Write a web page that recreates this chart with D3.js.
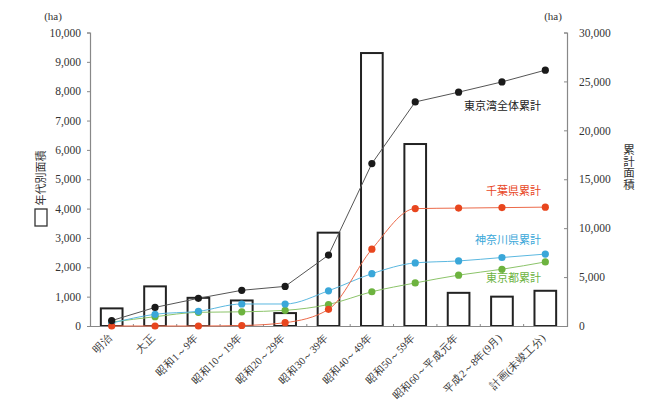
<!DOCTYPE html>
<html><head><meta charset="utf-8">
<script src="https://cdn.jsdelivr.net/npm/d3@7"></script>
<style>
body{margin:0;background:#fff;}
svg{display:block;}
.tick text{font-family:"Liberation Serif","DejaVu Serif",serif;}
</style></head>
<body><svg id="c" width="653" height="414"></svg>
<script>
const categories = ["明治","大正","昭和1～9年","昭和10～19年","昭和20～29年","昭和30～39年","昭和40～49年","昭和50～59年","昭和60～平成元年","平成2～8年(9月)","計画(未竣工分)"];
const decadeArea = [600, 1350, 960, 870, 440, 3180, 9300, 6200, 1130, 1000, 1200];
const totalCum   = [550, 1900, 2830, 3650, 4050, 7250, 16600, 22900, 23900, 24950, 26150];
const chibaCum   = [0, 0, 0, 50, 340, 1700, 7850, 12000, 12050, 12100, 12150];
const kanagawaCum= [300, 1200, 1500, 2250, 2250, 3600, 5350, 6450, 6650, 7000, 7350];
const tokyoCum   = [400, 950, 1400, 1450, 1600, 2200, 3500, 4400, 5200, 5800, 6550];
const leftTicks  = [0,1000,2000,3000,4000,5000,6000,7000,8000,9000,10000];
const rightTicks = [0,5000,10000,15000,20000,25000,30000];
const seriesNames = ["東京湾全体累計","千葉県累計","神奈川県累計","東京都累計"];

const svg = d3.select("#c");
const L = 90, R = 567, T = 32.5, B = 326;
const x = d3.scaleBand().domain(categories).range([L, R]).paddingInner(0.5).paddingOuter(0.25);
const yL = d3.scaleLinear().domain([0, 10000]).range([B, T]);
const yR = d3.scaleLinear().domain([0, 30000]).range([B, T]);
const fmt = d3.format(",");

// left axis
const gL = svg.append("g").attr("transform", `translate(${L},0)`)
  .call(d3.axisLeft(yL).tickValues(leftTicks).tickFormat(fmt).tickSize(3).tickPadding(6));
// right axis
const gR = svg.append("g").attr("transform", `translate(${R},0)`)
  .call(d3.axisRight(yR).tickValues(rightTicks).tickFormat(fmt).tickSize(-3).tickPadding(12));
[gL, gR].forEach(g => {
  g.select(".domain").attr("stroke", "#888").attr("stroke-width", 1.2);
  g.selectAll(".tick line").attr("stroke", "#888");
  g.selectAll(".tick text").attr("fill", "#333").attr("font-size", 11.5);
});

// bars
svg.append("g").selectAll("rect").data(categories).join("rect")
  .attr("x", d => x(d)).attr("width", x.bandwidth())
  .attr("y", (d, i) => yL(decadeArea[i]))
  .attr("height", (d, i) => B - yL(decadeArea[i]))
  .attr("fill", "#fff").attr("stroke", "#222").attr("stroke-width", 2);

// bottom axis
const gB = svg.append("g").attr("transform", `translate(0,${B})`)
  .call(d3.axisBottom(x).tickSize(0).tickPadding(0));
gB.select(".domain").attr("stroke", "#888").attr("stroke-width", 1.2);
gB.selectAll(".tick text")
  .attr("font-family", "'Noto Sans CJK JP',sans-serif").attr("font-size", 10.5).attr("fill", "#333")
  .attr("text-anchor", "end")
  .attr("transform", "translate(-2,10) rotate(-45)")
  .attr("dy", "0.35em").attr("dx", 0).attr("y", 0);
// small separator ticks between categories
svg.append("g").selectAll("line").data(categories.slice(1)).join("line")
  .attr("x1", d => x(d) - x.step() * x.paddingInner() / 2)
  .attr("x2", d => x(d) - x.step() * x.paddingInner() / 2)
  .attr("y1", B - 2).attr("y2", B + 1).attr("stroke", "#888");

// lines
const series = [
  {vals: totalCum, color: "#1a1a1a", line: "#555", curve: d3.curveLinear},
  {vals: chibaCum, color: "#e8461e", line: "#ec6a4a", curve: d3.curveMonotoneX},
  {vals: kanagawaCum, color: "#3aa7d9", line: "#5bb8e0", curve: d3.curveMonotoneX},
  {vals: tokyoCum, color: "#6db33f", line: "#8cc46a", curve: d3.curveMonotoneX}
];
const cx = d => x(d) + x.bandwidth() / 2;
[series[3], series[2], series[1], series[0]].forEach(s => {
  const line = d3.line().x((v, i) => cx(categories[i])).y(v => yR(v)).curve(s.curve);
  svg.append("path").datum(s.vals).attr("d", line)
    .attr("fill", "none").attr("stroke", s.line).attr("stroke-width", 1);
  svg.append("g").selectAll("circle").data(s.vals).join("circle")
    .attr("cx", (v, i) => cx(categories[i])).attr("cy", v => yR(v)).attr("r", 3.6)
    .attr("fill", s.color);
});

// series labels
const lab = [
  {t: seriesNames[0], c: "#222", y: 110},
  {t: seriesNames[1], c: "#e8461e", y: 195},
  {t: seriesNames[2], c: "#3aa7d9", y: 244},
  {t: seriesNames[3], c: "#6db33f", y: 282}
];
svg.append("g").selectAll("text").data(lab).join("text")
  .attr("x", 541).attr("y", d => d.y).attr("text-anchor", "end")
  .attr("font-family", "'Noto Sans CJK JP',sans-serif").attr("font-size", 11)
  .attr("fill", d => d.c).text(d => d.t);

// unit labels
svg.append("text").attr("x", 53).attr("y", 20).attr("text-anchor", "middle")
  .attr("font-family", "'Liberation Serif',serif").attr("font-size", 11).attr("fill", "#333").text("(ha)");
svg.append("text").attr("x", 553).attr("y", 20).attr("text-anchor", "middle")
  .attr("font-family", "'Liberation Serif',serif").attr("font-size", 11).attr("fill", "#333").text("(ha)");

// left axis title: box + vertical text
svg.append("rect").attr("x", 35).attr("y", 209).attr("width", 12).attr("height", 17)
  .attr("fill", "#fff").attr("stroke", "#333").attr("stroke-width", 1.3);
svg.append("text").attr("transform", "translate(41,178) rotate(-90)")
  .attr("text-anchor", "middle").attr("dy", "0.35em")
  .attr("font-family", "'Noto Sans CJK JP',sans-serif").attr("font-size", 11).attr("fill", "#333")
  .text("年代別面積");
// right axis title vertical
svg.append("text").attr("x", 629).attr("y", 144)
  .attr("writing-mode", "vertical-rl")
  .attr("font-family", "'Noto Sans CJK JP',sans-serif").attr("font-size", 11.5).attr("fill", "#333")
  .text("累計面積");
</script></body></html>
